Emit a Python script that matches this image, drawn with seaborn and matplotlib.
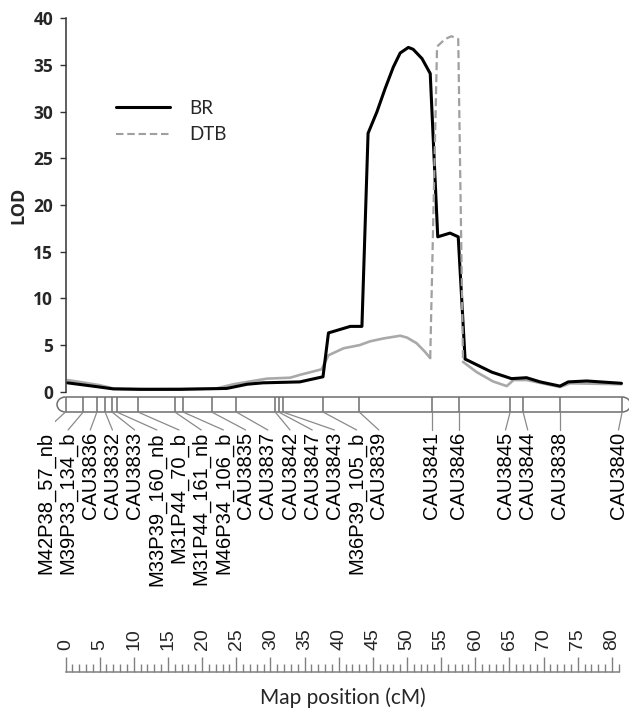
import matplotlib
matplotlib.use('Agg')
import matplotlib.pyplot as plt
import seaborn as sns
from matplotlib.lines import Line2D
from matplotlib.patches import Arc

# LOD profiles (map position in cM, LOD)
br_cm = [0.3, 5.0, 7.0, 10.9, 16.8, 23.6, 26.6, 28.9, 34.3, 37.7, 38.5, 41.7, 43.4,
         44.3, 45.6, 46.8, 48.0, 49.0, 50.2, 50.9, 52.2, 53.4, 54.5, 56.3, 57.5,
         58.5, 62.4, 65.3, 67.5, 69.5, 72.4, 73.6, 76.3, 81.4]
br_lod = [0.95, 0.5, 0.3, 0.25, 0.25, 0.35, 0.8, 0.95, 1.05, 1.6, 6.3, 7.0, 7.0,
          27.7, 30.0, 32.5, 34.8, 36.3, 36.9, 36.7, 35.7, 34.1, 16.6, 17.0, 16.6,
          3.5, 2.1, 1.4, 1.5, 1.05, 0.6, 1.05, 1.15, 0.9]

dtb_cm = [0.3, 5.0, 7.0, 12.4, 22.1, 24.6, 29.5, 32.9, 34.3, 37.5, 38.5, 40.7, 43.1,
          44.6, 46.5, 49.0, 50.0, 51.4, 52.6, 53.4, 54.4, 55.6, 56.5, 57.5, 58.2,
          60.2, 62.6, 64.6, 65.6, 67.5, 72.4, 73.9, 81.4]
dtb_lod = [1.25, 0.7, 0.35, 0.3, 0.35, 0.8, 1.4, 1.5, 1.8, 2.4, 3.9, 4.65, 5.0,
           5.4, 5.7, 6.0, 5.8, 5.2, 4.3, 3.6, 37.0, 37.8, 38.1, 37.8, 3.2,
           2.1, 1.1, 0.6, 1.25, 1.25, 0.5, 0.9, 0.8]
# the DTB stretch between these two positions is drawn dashed
DTB_PEAK = (53.4, 58.2)

marker_names = ['M42P38_57_nb', 'M39P33_134_b', 'CAU3836', 'CAU3832', 'CAU3833',
                'M33P39_160_nb', 'M31P44_70_b', 'M31P44_161_nb', 'M46P34_106_b',
                'CAU3835', 'CAU3837', 'CAU3842', 'CAU3847', 'CAU3843', 'M36P39_105_b',
                'CAU3839', 'CAU3841', 'CAU3846', 'CAU3845', 'CAU3844', 'CAU3838', 'CAU3840']
marker_cm = [0.0, 2.6, 4.6, 5.8, 6.8, 7.5, 10.6, 16.0, 17.2, 21.4, 25.0, 30.7, 31.2,
             31.8, 37.7, 43.0, 53.6, 57.6, 65.1, 67.0, 72.4, 81.5]

lod_ticks = [0, 5, 10, 15, 20, 25, 30, 35, 40]
ruler_ticks = list(range(0, 81, 5))

sns.set_theme(style='white')
plt.rcParams['font.family'] = ['Lato', 'DejaVu Sans']
MAP_FONT = ['Liberation Sans', 'DejaVu Sans']
BOLD_FONT = ['Open Sans', 'DejaVu Sans']

W, H = 630, 714
PX_PER_CM = 6.83
X0 = 65.5          # pixel column of 0 cM
XLIM = (-1.5, 82.5)


def px_x(v):
    return v / W


def px_y(v):
    return 1 - v / H


def spread_labels(pos, gap, right_limit):
    # groups of crowded labels are spread evenly round the middle of their markers
    groups = [[i] for i in range(len(pos))]
    while True:
        starts = [(pos[g[0]] + pos[g[-1]]) / 2 - gap * (len(g) - 1) / 2 for g in groups]
        for k in range(len(groups) - 1):
            end = starts[k] + gap * (len(groups[k]) - 1)
            if starts[k + 1] - end < gap - 1e-9:
                groups[k:k + 2] = [groups[k] + groups[k + 1]]
                break
        else:
            break
    out = []
    for g, s in zip(groups, starts):
        out += [s + gap * j for j in range(len(g))]
    return [min(v, right_limit) for v in out]


fig = plt.figure(figsize=(W / 100, H / 100), dpi=100)
left = px_x(X0 + XLIM[0] * PX_PER_CM)
width = (XLIM[1] - XLIM[0]) * PX_PER_CM / W

# --- LOD profiles
ax = fig.add_axes([left, px_y(391.7), width, (391.7 - 18.5) / H])
ax.set_xlim(*XLIM)
ax.set_ylim(0, 40)

lo, hi = dtb_cm.index(DTB_PEAK[0]), dtb_cm.index(DTB_PEAK[1])
sns.lineplot(x=dtb_cm[:lo + 1], y=dtb_lod[:lo + 1], ax=ax, color='#a9a9a9', lw=1.9,
             sort=False, estimator=None)
sns.lineplot(x=dtb_cm[hi:], y=dtb_lod[hi:], ax=ax, color='#a9a9a9', lw=1.9,
             sort=False, estimator=None)
sns.lineplot(x=br_cm, y=br_lod, ax=ax, color='black', lw=2.2, sort=False, estimator=None)
sns.lineplot(x=dtb_cm[lo:hi + 1], y=dtb_lod[lo:hi + 1], ax=ax, color='#a0a0a0', lw=1.6,
             sort=False, estimator=None).lines[-1].set_dashes((3.6, 1.8))

for s in ['top', 'right', 'bottom']:
    ax.spines[s].set_visible(False)
ax.spines['left'].set_position(('data', 0))
ax.spines['left'].set_color('#333333')
ax.spines['left'].set_linewidth(1.1)
ax.set_xticks([])
ax.set_yticks(lod_ticks)
ax.set_yticklabels([str(v) for v in lod_ticks], family=BOLD_FONT, fontweight='bold',
                   fontsize=12.5)
ax.tick_params(axis='y', left=True, direction='out', length=4.3, width=1.0,
               color='#333333', pad=4.5)
ax.set_xlabel('')
ax.set_ylabel('')
fig.text(px_x(18.5), px_y(205), 'LOD', rotation=90, ha='center', va='center',
         fontsize=13, fontweight='bold', family=BOLD_FONT)

handles = [Line2D([], [], color='black', lw=2.2),
           Line2D([], [], color='#a0a0a0', lw=1.5, dashes=(3.6, 1.8))]
ax.legend(handles, ['BR', 'DTB'], loc='upper left', frameon=False, fontsize=13.5,
          bbox_to_anchor=(px_x(116), px_y(100)), bbox_transform=fig.transFigure,
          borderpad=0, borderaxespad=0, handlelength=2.9, handletextpad=1.0,
          labelspacing=0.5)

# --- linkage group bar with marker names (y in pixel rows)
mx = fig.add_axes([left, px_y(600), width, 210 / H])
mx.set_xlim(*XLIM)
mx.set_ylim(600, 390)
mx.axis('off')
bar_top, bar_bot = 397, 412
end = marker_cm[-1]
bar_col = '#6e6e6e'
mx.plot([0, end], [bar_top, bar_top], color=bar_col, lw=1.1)
mx.plot([0, end], [bar_bot, bar_bot], color=bar_col, lw=1.1)
cap_w = 2 * 8.5 / PX_PER_CM
mx.add_patch(Arc((0, (bar_top + bar_bot) / 2), cap_w, bar_bot - bar_top,
                 theta1=90, theta2=270, color=bar_col, lw=1.1))
mx.add_patch(Arc((end, (bar_top + bar_bot) / 2), cap_w, bar_bot - bar_top,
                 theta1=-90, theta2=90, color=bar_col, lw=1.1))
mx.vlines(marker_cm, bar_top, bar_bot, color=bar_col, lw=1.1)

label_x = spread_labels(marker_cm, 22.2 / PX_PER_CM, XLIM[1] - 10.5 / PX_PER_CM)
for name, m, lx in zip(marker_names, marker_cm, label_x):
    mx.plot([m, lx], [bar_bot, 430], color='#8a8a8a', lw=0.9)
    mx.text(lx, 432, name, rotation=90, ha='center', va='top', fontsize=14.5,
            family=MAP_FONT, color='black')

# --- map position ruler
rx = fig.add_axes([left, px_y(672) - 0.01, width, 0.01])
rx.set_xlim(*XLIM)
rx.set_yticks([])
for s in ['left', 'right', 'bottom']:
    rx.spines[s].set_visible(False)
rx.spines['top'].set_color('#808080')
rx.spines['top'].set_linewidth(1.1)
rx.spines['top'].set_bounds(0, 81)
rx.xaxis.tick_top()
rx.set_xticks(ruler_ticks)
rx.set_xticks(range(0, 82), minor=True)
rx.set_xticklabels([str(v) for v in ruler_ticks], rotation=90, family=MAP_FONT,
                   fontsize=14)
rx.tick_params(axis='x', which='major', top=True, bottom=False, labeltop=True,
               labelbottom=False, direction='out', length=11, width=1.0,
               color='#808080', pad=5)
rx.tick_params(axis='x', which='minor', top=True, bottom=False, direction='out',
               length=5.8, width=1.0, color='#808080')
fig.text(px_x(343), px_y(698), 'Map position (cM)', ha='center', va='center', fontsize=15)

fig.savefig('out.png', dpi=100)
